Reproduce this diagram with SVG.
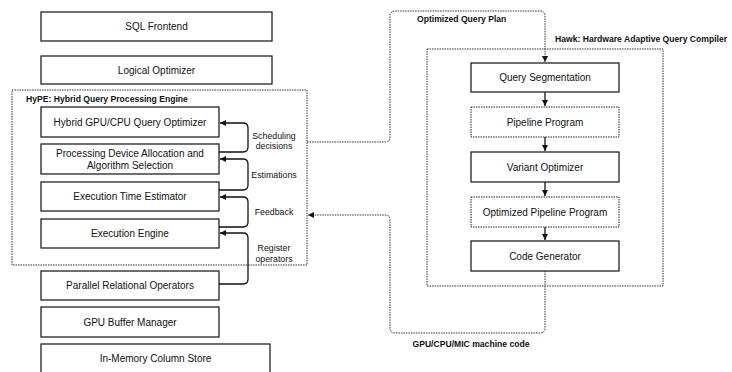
<svg xmlns="http://www.w3.org/2000/svg" width="732" height="372" viewBox="0 0 732 372">
<style>
.box{fill:#fff;stroke:#222;stroke-width:1.3}
.dbox{fill:#fff;stroke:#222;stroke-width:1;stroke-dasharray:1.5 1}
.grp{fill:none;stroke:#333;stroke-width:1;stroke-dasharray:1.5 1}
.t{font-family:"Liberation Sans",Arial,sans-serif;font-size:10px;fill:#111;text-anchor:middle}
.s{font-family:"Liberation Sans",Arial,sans-serif;font-size:8.8px;fill:#111;text-anchor:middle}
.b{font-family:"Liberation Sans",Arial,sans-serif;font-size:8.6px;font-weight:bold;fill:#111}
.c{fill:none;stroke:#111;stroke-width:1.3}
.dc{fill:none;stroke:#333;stroke-width:1;stroke-dasharray:1.5 1}
</style>
<defs>
<marker id="ah" viewBox="0 0 10 10" refX="10" refY="5" markerWidth="6" markerHeight="6" orient="auto" markerUnits="userSpaceOnUse">
<path d="M0,0 L10,5 L0,10 z" fill="#111"/>
</marker>
</defs>
<rect width="732" height="372" fill="#fff"/>
<g id="hype-group">
<rect class="grp" x="12" y="90" width="295" height="175"/>
<text class="b" x="26" y="102">HyPE: Hybrid Query Processing Engine</text>
</g>
<g id="hawk-group">
<rect class="grp" x="427" y="49" width="236" height="237"/>
<text class="b" x="555" y="42">Hawk: Hardware Adaptive Query Compiler</text>
</g>
<g id="sql-frontend"><rect class="box" x="41" y="12" width="231" height="29"/><text class="t" x="156.5" y="30">SQL Frontend</text></g>
<g id="logical-optimizer"><rect class="box" x="41" y="56" width="231" height="28"/><text class="t" x="156.5" y="73.5">Logical Optimizer</text></g>
<g id="hybrid-optimizer"><rect class="box" x="41" y="107" width="178" height="30"/><text class="t" x="130" y="125.5">Hybrid GPU/CPU Query Optimizer</text></g>
<g id="device-allocation"><rect class="box" x="41" y="144" width="178" height="30"/><text class="t" x="130" y="157">Processing Device Allocation and</text><text class="t" x="130" y="169">Algorithm Selection</text></g>
<g id="time-estimator"><rect class="box" x="41" y="182" width="178" height="29"/><text class="t" x="130" y="200">Execution Time Estimator</text></g>
<g id="execution-engine"><rect class="box" x="41" y="219" width="178" height="29"/><text class="t" x="130" y="237">Execution Engine</text></g>
<g id="parallel-operators"><rect class="box" x="41" y="271" width="178" height="29"/><text class="t" x="130" y="289">Parallel Relational Operators</text></g>
<g id="gpu-buffer"><rect class="box" x="41" y="307" width="178" height="30"/><text class="t" x="130" y="325.5">GPU Buffer Manager</text></g>
<g id="column-store"><rect class="box" x="41" y="344" width="229" height="32"/><text class="t" x="155.5" y="362">In-Memory Column Store</text></g>
<g id="query-segmentation"><rect class="box" x="471" y="63" width="148" height="29"/><text class="t" x="545" y="81">Query Segmentation</text></g>
<g id="pipeline-program"><rect class="dbox" x="471" y="107" width="148" height="30"/><text class="t" x="545" y="125.5">Pipeline Program</text></g>
<g id="variant-optimizer"><rect class="box" x="471" y="152" width="148" height="30"/><text class="t" x="545" y="170.5">Variant Optimizer</text></g>
<g id="optimized-pipeline"><rect class="dbox" x="471" y="197" width="148" height="30"/><text class="t" x="545" y="215.5">Optimized Pipeline Program</text></g>
<g id="code-generator"><rect class="box" x="471" y="241" width="148" height="30"/><text class="t" x="545" y="259.5">Code Generator</text></g>
<g id="connectors">
<path class="c" d="M219,152 H243 Q248,152 248,147 V128 Q248,123 243,123 H220" marker-end="url(#ah)"/>
<path class="c" d="M219,190 H243 Q248,190 248,185 V164 Q248,159 243,159 H220" marker-end="url(#ah)"/>
<path class="c" d="M219,227 H243 Q248,227 248,222 V202 Q248,197 243,197 H220" marker-end="url(#ah)"/>
<path class="c" d="M219,284 H243 Q248,284 248,279 V238 Q248,233 243,233 H220" marker-end="url(#ah)"/>
<text class="s" x="274" y="139">Scheduling</text>
<text class="s" x="274" y="149">decisions</text>
<text class="s" x="274" y="178">Estimations</text>
<text class="s" x="274" y="215">Feedback</text>
<text class="s" x="274" y="251">Register</text>
<text class="s" x="274" y="261.5">operators</text>
<path class="c" d="M545,92 V106" marker-end="url(#ah)"/>
<path class="c" d="M545,137 V151" marker-end="url(#ah)"/>
<path class="c" d="M545,182 V196" marker-end="url(#ah)"/>
<path class="c" d="M545,227 V240" marker-end="url(#ah)"/>
<path class="dc" d="M307,142 H385 Q390,142 390,137 V16 Q390,11 395,11 H540 Q545,11 545,16 V62" marker-end="url(#ah)"/>
<path class="dc" d="M545,271 V328 Q545,333 540,333 H395 Q390,333 390,328 V220 Q390,215 385,215 H308" marker-end="url(#ah)"/>
<text class="b" x="417" y="22">Optimized Query Plan</text>
<text class="b" x="471" y="347" text-anchor="middle">GPU/CPU/MIC machine code</text>
</g>
</svg>
